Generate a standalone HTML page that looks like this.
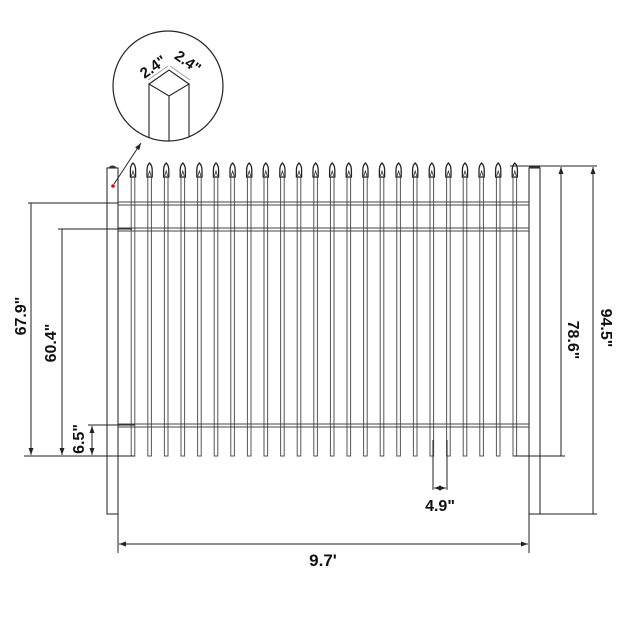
<!DOCTYPE html>
<html><head><meta charset="utf-8"><style>
html,body{margin:0;padding:0;background:#fff}
svg{display:block}
text{font-family:"Liberation Sans",sans-serif;font-weight:bold;fill:#111}
</style></head><body>
<svg width="630" height="630" viewBox="0 0 630 630" xmlns="http://www.w3.org/2000/svg">
<defs>
<g id="pk">
<rect x="-1.8" y="176" width="3.6" height="280" fill="#fff" stroke="#555" stroke-width="1"/>
<path d="M-2.6,177 L-2.6,170 Q-2.6,165.5 0,163 Q2.6,165.5 2.6,170 L2.6,177 Z" fill="#fff" stroke="#222" stroke-width="1.3"/>
<path d="M-1.5,176 L0,171 L1.5,176" fill="none" stroke="#333" stroke-width="0.8"/>
</g>
<marker id="ar" markerWidth="8" markerHeight="8" refX="7" refY="4" orient="auto" markerUnits="userSpaceOnUse"><path d="M0,1.5 L7,4 L0,6.5 Z" fill="#222"/></marker>
</defs>
<g stroke="#444" stroke-width="1" fill="#fff">
<rect x="118" y="202" width="411" height="3"/>
<rect x="118" y="228" width="411" height="3"/>
<rect x="118" y="424" width="411" height="3"/>
</g>
<g>
<use href="#pk" x="133"/><use href="#pk" x="149.6"/><use href="#pk" x="166.2"/><use href="#pk" x="182.8"/>
<use href="#pk" x="199.4"/><use href="#pk" x="216"/><use href="#pk" x="232.6"/><use href="#pk" x="249.2"/>
<use href="#pk" x="265.8"/><use href="#pk" x="282.4"/><use href="#pk" x="299"/><use href="#pk" x="315.6"/>
<use href="#pk" x="332.2"/><use href="#pk" x="348.8"/><use href="#pk" x="365.4"/><use href="#pk" x="382"/>
<use href="#pk" x="398.6"/><use href="#pk" x="415.2"/><use href="#pk" x="431.8"/><use href="#pk" x="448.4"/>
<use href="#pk" x="465"/><use href="#pk" x="481.6"/><use href="#pk" x="498.2"/><use href="#pk" x="514.8"/>
</g>
<g stroke="#444" stroke-width="1">
<line x1="118" y1="202" x2="529" y2="202"/><line x1="118" y1="205" x2="529" y2="205"/>
<line x1="118" y1="228" x2="529" y2="228"/><line x1="118" y1="231" x2="529" y2="231"/>
<line x1="118" y1="424" x2="529" y2="424"/><line x1="118" y1="427" x2="529" y2="427"/>
</g>
<g stroke="#444" stroke-width="1.2" fill="#fff">
<rect x="107" y="168" width="11" height="346"/>
<rect x="529" y="168" width="11" height="346"/>
</g>
<path d="M108,168 Q112.5,163 117,168 Z" fill="#333"/>
<path d="M530,168 Q534.5,164 539,168 Z" fill="#333"/>
<line x1="529" y1="167" x2="540" y2="167" stroke="#333" stroke-width="1.5"/>
<circle cx="113" cy="186" r="1.8" fill="#e00"/>
<g stroke="#222" stroke-width="1" fill="none">
<line x1="28" y1="203" x2="118" y2="203"/>
<line x1="58" y1="229" x2="132" y2="229"/>
<line x1="24" y1="456" x2="135" y2="456"/>
<line x1="88" y1="425" x2="135" y2="425"/>
<line x1="31" y1="203" x2="31" y2="455" marker-end="url(#ar)"/>
<line x1="62" y1="229" x2="62" y2="455" marker-end="url(#ar)"/>
<line x1="92" y1="440" x2="92" y2="426" marker-end="url(#ar)"/>
<line x1="92" y1="440" x2="92" y2="455" marker-end="url(#ar)"/>
<line x1="510" y1="166" x2="597" y2="166"/>
<line x1="514" y1="456" x2="565" y2="456"/>
<line x1="540" y1="514" x2="597" y2="514"/>
<line x1="561" y1="456" x2="561" y2="167" marker-end="url(#ar)"/>
<line x1="593" y1="514" x2="593" y2="167" marker-end="url(#ar)"/>
<line x1="118" y1="514" x2="118" y2="553"/>
<line x1="529" y1="514" x2="529" y2="553"/>
<line x1="323" y1="544" x2="119" y2="544" marker-end="url(#ar)"/>
<line x1="323" y1="544" x2="528" y2="544" marker-end="url(#ar)"/>
<line x1="433" y1="440" x2="433" y2="490"/>
<line x1="447" y1="440" x2="447" y2="490"/>
<line x1="440" y1="488" x2="434" y2="488" marker-end="url(#ar)"/>
<line x1="440" y1="488" x2="446" y2="488" marker-end="url(#ar)"/>
<line x1="114" y1="184" x2="141" y2="143" marker-end="url(#ar)"/>
</g>
<circle cx="168" cy="86" r="55" fill="none" stroke="#222" stroke-width="1.2"/>
<g stroke="#222" stroke-width="1.1" fill="none">
<path d="M149,84 L169,70 L189,84 L169,96 Z"/>
<line x1="149" y1="84" x2="149" y2="138"/>
<line x1="169" y1="96" x2="169" y2="141"/>
<line x1="189" y1="84" x2="189" y2="137"/>
</g>
<g stroke="#999" stroke-width="0.8">
<line x1="148" y1="80" x2="168" y2="66"/><line x1="170" y1="66" x2="190" y2="80"/>
</g>
<text x="156" y="71" font-size="15" transform="rotate(-35 156 71)" text-anchor="middle">2.4"</text>
<text x="185" y="66" font-size="15" transform="rotate(35 185 66)" text-anchor="middle">2.4"</text>
<text x="22" y="316" font-size="16" transform="rotate(-90 22 316)" text-anchor="middle" dominant-baseline="middle">67.9"</text>
<text x="52" y="343" font-size="16" transform="rotate(-90 52 343)" text-anchor="middle" dominant-baseline="middle">60.4"</text>
<text x="80" y="439" font-size="16" transform="rotate(-90 80 439)" text-anchor="middle" dominant-baseline="middle">6.5"</text>
<text x="572" y="340" font-size="16" transform="rotate(90 572 340)" text-anchor="middle" dominant-baseline="middle">78.6"</text>
<text x="605" y="328" font-size="16" transform="rotate(90 605 328)" text-anchor="middle" dominant-baseline="middle">94.5"</text>
<text x="440" y="511" font-size="16" text-anchor="middle">4.9"</text>
<text x="323" y="566" font-size="17" text-anchor="middle">9.7'</text>
</svg>
</body></html>
